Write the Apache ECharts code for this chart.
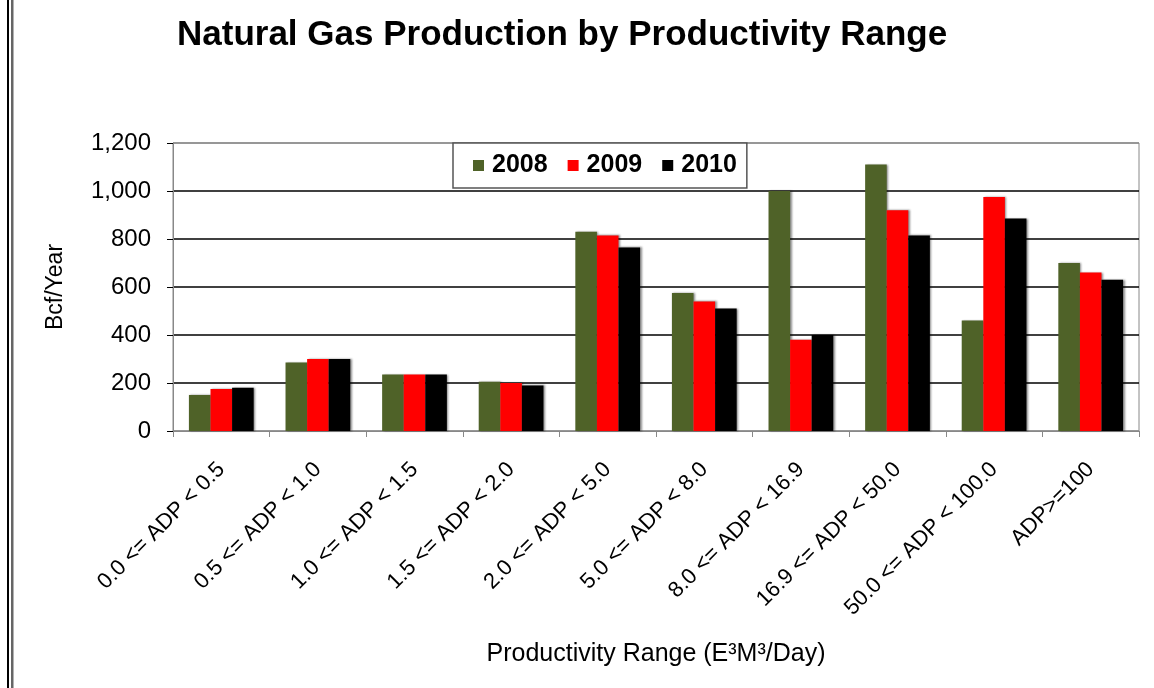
<!DOCTYPE html>
<html>
<head>
<meta charset="utf-8">
<script src="https://cdn.jsdelivr.net/npm/echarts@6/dist/echarts.min.js"></script>
<style>
  html, body {margin: 0; padding: 0; background: #fff;}
  #main {width: 1154px; height: 688px;}
</style>
</head>
<body>
<div id="main"></div>
<script>
function $(id) {return document.getElementById(id)}

var FONT = '"Liberation Sans", Arial, sans-serif';

// productivity ranges (E3M3/day)
var categories = [
  '0.0 <= ADP < 0.5',
  '0.5 <= ADP < 1.0',
  '1.0 <= ADP < 1.5',
  '1.5 <= ADP < 2.0',
  '2.0 <= ADP < 5.0',
  '5.0 <= ADP < 8.0',
  '8.0 <= ADP < 16.9',
  '16.9 <= ADP < 50.0',
  '50.0 <= ADP < 100.0',
  'ADP>=100'
];
var years = ['2008', '2009', '2010'];
// Bcf/Year
var prod2008 = [150, 285, 235, 205, 830, 575, 1000, 1110, 460, 700];
var prod2009 = [175, 300, 235, 200, 815, 540, 380, 920, 975, 660];
var prod2010 = [180, 300, 235, 190, 765, 510, 400, 815, 885, 630];
var colors = ['#4f6228', '#ff0000', '#000000'];

var chart = echarts.init($('main'));

function barSeries(name, data, color) {
  return {
    name: name,
    type: 'bar',
    data: data,
    barGap: '0%',
    barCategoryGap: '33%',
    itemStyle: {
      color: color,
      shadowColor: 'rgba(0,0,0,0.45)',
      shadowBlur: 2,
      shadowOffsetX: 1.5,
      shadowOffsetY: 0
    }
  };
}

chart.setOption({
  animation: false,
  backgroundColor: '#fff',
  textStyle: {fontFamily: FONT},
  title: {
    text: 'Natural Gas Production by Productivity Range',
    left: 172,
    top: 13,
    textStyle: {fontSize: 35, fontWeight: 'bold', color: '#000', fontFamily: FONT}
  },
  legend: {
    data: years,
    left: 453,
    top: 143,
    icon: 'rect',
    itemWidth: 11,
    itemHeight: 11,
    itemGap: 20,
    padding: [10, 10, 10, 20],
    backgroundColor: '#fff',
    borderColor: '#555',
    borderWidth: 1.5,
    textStyle: {fontSize: 25, fontWeight: 'bold', color: '#000', fontFamily: FONT, padding: [0, 0, 0, 3]}
  },
  grid: {
    left: 173,
    right: 15,
    top: 143,
    bottom: 257,
    show: true,
    borderColor: '#888',
    borderWidth: 1
  },
  xAxis: {
    type: 'category',
    data: categories,
    name: 'Productivity Range (E³M³/Day)',
    nameLocation: 'middle',
    nameGap: 211,
    nameTextStyle: {fontSize: 25, color: '#000', fontFamily: FONT},
    axisLine: {lineStyle: {color: '#888', width: 1}},
    axisTick: {show: true, length: 6, lineStyle: {color: '#888'}},
    axisLabel: {interval: 0, rotate: 45, margin: 35, fontSize: 22, color: '#000', fontFamily: FONT}
  },
  yAxis: {
    type: 'value',
    min: 0,
    max: 1200,
    interval: 200,
    name: 'Bcf/Year',
    nameLocation: 'middle',
    nameRotate: 90,
    nameGap: 106,
    nameTextStyle: {fontSize: 23, color: '#000', fontFamily: FONT},
    axisLine: {show: true, lineStyle: {color: '#888', width: 1}},
    axisTick: {show: true, length: 6, lineStyle: {color: '#000'}},
    axisLabel: {margin: 22, fontSize: 24, color: '#000', fontFamily: FONT},
    splitLine: {
      show: true,
      lineStyle: {color: ['#888', '#000', '#000', '#000', '#000', '#000', '#888'], width: 1.5}
    }
  },
  series: [
    barSeries(years[0], prod2008, colors[0]),
    barSeries(years[1], prod2009, colors[1]),
    barSeries(years[2], prod2010, colors[2])
  ],
  // double rule down the left edge of the page
  graphic: [
    {type: 'rect', left: 7, top: 0, shape: {width: 2, height: 688}, style: {fill: '#000'}},
    {type: 'rect', left: 11, top: 0, shape: {width: 2.5, height: 688}, style: {fill: '#666'}}
  ]
});
</script>
</body>
</html>
